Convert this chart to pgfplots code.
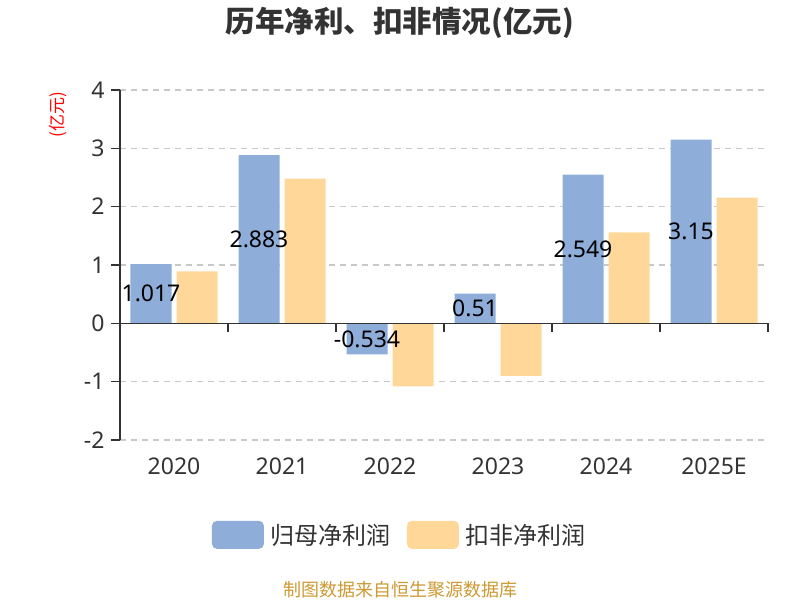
\documentclass[border=0pt]{standalone}
\usepackage{pgfplots}
\pgfplotsset{compat=1.18}
\usepackage{fontspec}
\setmainfont{Noto Sans}
\newfontfamily\cjk{Noto Sans CJK SC}

\definecolor{barblue}{RGB}{142,173,217}
\definecolor{barorange}{RGB}{255,216,153}
\definecolor{axisgray}{RGB}{51,51,51}
\definecolor{gridgray}{RGB}{200,200,200}
\definecolor{srcgold}{RGB}{204,153,51}

\begin{document}
\begin{tikzpicture}
\useasboundingbox (0,0) rectangle (800pt,600pt);

% title, unit label, source
\node[font=\cjk\bfseries\fontsize{29.5}{29.5}\selectfont, text=axisgray] at (400pt,577pt) {历年净利、扣非情况(亿元)};
\node[font=\cjk\fontsize{17}{17}\selectfont, text=red, rotate=90] at (58pt,485pt) {(亿元)};
\node[font=\cjk\fontsize{18}{18}\selectfont, text=srcgold] at (400pt,10pt) {制图数据来自恒生聚源数据库};

\begin{axis}[
    at={(120pt,160pt)}, anchor=south west,
    scale only axis,
    width=648pt, height=350pt,
    ybar=5pt,
    bar width=41pt,
    xmin=-0.5, xmax=5.5,
    ymin=-2, ymax=4,
    xtick={0,1,2,3,4,5},
    xticklabels={2020,2021,2022,2023,2024,2025E},
    ytick={-2,-1,0,1,2,3,4},
    axis x line*=bottom,
    axis y line*=left,
    x axis line style={draw=none},
    y axis line style={axisgray, line width=1.3pt},
    xtick style={draw=none},
    ytick style={axisgray, line width=1.3pt},
    tick align=outside,
    major tick length=9pt,
    ymajorgrids,
    grid style={gridgray, line width=1.2pt, dash pattern=on 6pt off 5pt},
    ticklabel style={font=\fontsize{23}{23}\selectfont, text=axisgray},
    xticklabel style={yshift=-5pt},
    yticklabel style={xshift=-3pt},
    /pgf/number format/assume math mode=true,
    clip=false,
    legend columns=2,
    legend style={at={(axis description cs:0.432,-0.271)}, anchor=center,
        draw=none, font=\cjk\fontsize{24}{24}\selectfont, text=axisgray,
        /tikz/every even column/.append style={column sep=14pt}},
    legend cell align=left,
]
\addplot[fill=barblue, draw=none,
    area legend,
    legend image code/.code={\fill[barblue, rounded corners=5pt] (0pt,-14pt) rectangle (52pt,14pt); \path (57pt,0pt);},
    visualization depends on={rawy \as \rawy},
    nodes near coords={\pgfmathprintnumber[fixed, precision=3]{\pgfplotspointmeta}},
    nodes near coords style={anchor=center, font=\fontsize{23}{23}\selectfont, text=black,
        yshift={-\rawy*29.1667pt}},
    ] coordinates {(0,1.017) (1,2.883) (2,-0.534) (3,0.51) (4,2.549) (5,3.15)};
\addplot[fill=barorange, draw=none,
    area legend,
    legend image code/.code={\fill[barorange, rounded corners=5pt] (0pt,-14pt) rectangle (52pt,14pt); \path (57pt,0pt);},
    ] coordinates {(0,0.89) (1,2.48) (2,-1.08) (3,-0.90) (4,1.56) (5,2.155)};
\legend{归母净利润, 扣非净利润}
\draw[axisgray, line width=1.3pt] (axis cs:-0.5,0) -- (axis cs:5.5,0);
\pgfplotsinvokeforeach{0.5,1.5,2.5,3.5,4.5,5.5}{
  \draw[axisgray, line width=1.3pt] (axis cs:#1,0) -- ++(0pt,-9pt);
}
\end{axis}
\end{tikzpicture}
\end{document}
